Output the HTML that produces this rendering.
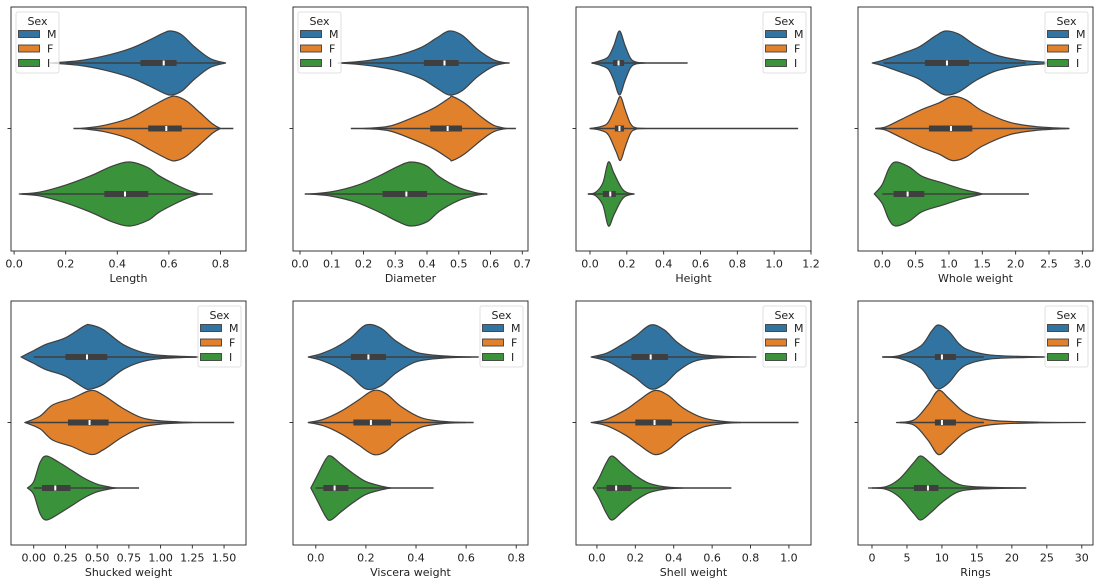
<!DOCTYPE html>
<html><head><meta charset="utf-8"><style>
html,body{margin:0;padding:0;background:#fff;}
svg{display:block;font-family:"DejaVu Sans","Liberation Sans",sans-serif;}
</style></head><body>
<svg id="fig" width="1100" height="582" viewBox="0 0 1100 582" xmlns="http://www.w3.org/2000/svg"></svg>
<script>
// ---------- data ----------
const sexCategories = ["M","F","I"];
const sexColors = ["#3274a1","#e1812c","#3a923a"];
const panelTitles = ["Length","Diameter","Height","Whole weight","Shucked weight","Viscera weight","Shell weight","Rings"];
const panelDomains = [[-0.012,0.899],[-0.022,0.718],[-0.076,1.2],[-0.364,3.16],[-0.179,1.673],[-0.091,0.847],[-0.109,1.115],[-2.0,31.6]];
const panelTicks = [
  [0,0.2,0.4,0.6,0.8],
  [0,0.1,0.2,0.3,0.4,0.5,0.6,0.7],
  [0,0.2,0.4,0.6,0.8,1.0,1.2],
  [0,0.5,1.0,1.5,2.0,2.5,3.0],
  [0,0.25,0.5,0.75,1.0,1.25,1.5],
  [0,0.2,0.4,0.6,0.8],
  [0,0.2,0.4,0.6,0.8,1.0],
  [0,5,10,15,20,25,30]
];
const panelTickLabels = [
  ["0.0","0.2","0.4","0.6","0.8"],
  ["0.0","0.1","0.2","0.3","0.4","0.5","0.6","0.7"],
  ["0.0","0.2","0.4","0.6","0.8","1.0","1.2"],
  ["0.0","0.5","1.0","1.5","2.0","2.5","3.0"],
  ["0.00","0.25","0.50","0.75","1.00","1.25","1.50"],
  ["0.0","0.2","0.4","0.6","0.8"],
  ["0.0","0.2","0.4","0.6","0.8","1.0"],
  ["0","5","10","15","20","25","30"]
];
const legendSide = ["left","left","right","right","right","right","right","right"];

// density knots [value, relative half-width] per sex (M, F, I)
const lengthShape = [
  [[0.14,0],[0.25,0.07],[0.35,0.22],[0.45,0.45],[0.52,0.7],[0.58,0.94],[0.61,1],[0.65,0.88],[0.7,0.5],[0.76,0.14],[0.82,0]],
  [[0.26,0],[0.35,0.1],[0.45,0.33],[0.53,0.68],[0.6,0.97],[0.63,1],[0.67,0.85],[0.72,0.5],[0.77,0.14],[0.8,0]],
  [[0.02,0],[0.1,0.06],[0.2,0.28],[0.3,0.58],[0.38,0.87],[0.45,1],[0.52,0.82],[0.56,0.58],[0.62,0.32],[0.68,0.1],[0.72,0]]
];
const diameterShape = [
  [[0.12,0],[0.2,0.06],[0.3,0.22],[0.38,0.48],[0.43,0.78],[0.47,1],[0.51,0.87],[0.56,0.42],[0.61,0.1],[0.65,0]],
  [[0.2,0],[0.28,0.07],[0.35,0.32],[0.42,0.63],[0.47,0.95],[0.48,1],[0.52,0.78],[0.57,0.37],[0.61,0.1],[0.65,0]],
  [[0.03,0],[0.1,0.07],[0.18,0.27],[0.25,0.57],[0.31,0.87],[0.35,1],[0.4,0.87],[0.44,0.53],[0.5,0.2],[0.55,0.05],[0.58,0]]
];
const heightShape = [
  [[0.01,0],[0.06,0.08],[0.1,0.2],[0.13,0.55],[0.16,1],[0.19,0.55],[0.22,0.15],[0.25,0.03],[0.3,0]],
  [[0.0,0],[0.06,0.06],[0.1,0.2],[0.14,0.7],[0.165,1],[0.19,0.6],[0.22,0.15],[0.25,0.02],[0.3,0]],
  [[-0.01,0],[0.03,0.05],[0.07,0.35],[0.1,1],[0.13,0.65],[0.17,0.2],[0.2,0.05],[0.24,0]]
];
const wholeShape = [
  [[-0.15,0],[0.0,0.08],[0.3,0.3],[0.55,0.5],[0.8,0.85],[0.95,1],[1.15,0.9],[1.4,0.55],[1.7,0.25],[2.1,0.08],[2.5,0.02],[2.55,0]],
  [[-0.1,0],[0.05,0.05],[0.3,0.3],[0.6,0.6],[0.85,0.8],[1.05,1],[1.25,0.9],[1.5,0.55],[1.9,0.2],[2.3,0.06],[2.8,0]],
  [[-0.12,0],[0.0,0.3],[0.1,0.8],[0.2,1],[0.4,0.85],[0.6,0.55],[0.9,0.35],[1.2,0.15],[1.45,0.03],[1.5,0]]
];
const shuckedShape = [
  [[-0.1,0],[0.0,0.2],[0.1,0.4],[0.25,0.6],[0.4,0.97],[0.45,1],[0.55,0.85],[0.7,0.4],[0.85,0.15],[1.0,0.05],[1.3,0]],
  [[-0.07,0],[0.05,0.2],[0.15,0.55],[0.3,0.75],[0.45,1],[0.55,0.85],[0.7,0.45],[0.85,0.15],[1.0,0.05],[1.2,0.01],[1.25,0]],
  [[-0.05,0],[0.0,0.2],[0.05,0.8],[0.1,1],[0.2,0.8],[0.3,0.55],[0.4,0.3],[0.5,0.12],[0.6,0.03],[0.65,0]]
];
const visceraShape = [
  [[-0.03,0],[0.02,0.1],[0.08,0.3],[0.14,0.6],[0.2,1],[0.26,0.9],[0.32,0.5],[0.4,0.15],[0.5,0.04],[0.62,0]],
  [[-0.03,0],[0.03,0.1],[0.1,0.35],[0.17,0.7],[0.23,1],[0.28,0.9],[0.34,0.5],[0.42,0.15],[0.5,0.04],[0.6,0]],
  [[-0.02,0],[0.0,0.3],[0.04,0.9],[0.06,1],[0.1,0.75],[0.15,0.45],[0.2,0.2],[0.26,0.06],[0.3,0]]
];
const shellShape = [
  [[-0.03,0],[0.05,0.12],[0.12,0.35],[0.2,0.65],[0.28,1],[0.35,0.85],[0.42,0.45],[0.5,0.15],[0.6,0.04],[0.8,0]],
  [[-0.03,0],[0.05,0.1],[0.15,0.4],[0.22,0.7],[0.3,1],[0.37,0.85],[0.45,0.45],[0.55,0.15],[0.65,0.04],[0.75,0]],
  [[-0.02,0],[0.01,0.3],[0.05,0.8],[0.08,1],[0.13,0.75],[0.2,0.4],[0.27,0.15],[0.35,0.04],[0.45,0]]
];
const ringsShape = [
  [[1.5,0],[4,0.05],[7,0.35],[8.5,0.8],[9.5,1],[11,0.8],[12.5,0.4],[14,0.2],[17,0.06],[22,0.015],[27,0]],
  [[3.5,0],[6,0.08],[8,0.55],[9.5,1],[11,0.75],[13,0.35],[15,0.15],[18,0.05],[24,0.01],[30.5,0]],
  [[-0.5,0],[2,0.04],[4,0.3],[6,0.8],[7,1],[8.5,0.75],[10,0.45],[12,0.15],[14,0.05],[17,0.02],[22,0]]
];
// box stats [whiskerLo, q1, median, q3, whiskerHi] per sex
const lengthBox = [[0.2,0.49,0.58,0.63,0.8],[0.23,0.52,0.59,0.65,0.85],[0.03,0.35,0.43,0.52,0.77]];
const diameterBox = [[0.15,0.39,0.455,0.5,0.66],[0.16,0.41,0.465,0.51,0.68],[0.015,0.26,0.335,0.4,0.59]];
const heightBox = [[0.01,0.125,0.155,0.185,0.53],[0.0,0.135,0.16,0.185,1.13],[-0.01,0.07,0.11,0.14,0.23]];
const wholeBox = [[0.02,0.64,0.97,1.3,2.15],[-0.1,0.7,1.03,1.35,2.8],[0.0,0.17,0.38,0.63,2.2]];
const shuckedBox = [[0.0,0.25,0.42,0.58,1.28],[-0.07,0.27,0.44,0.59,1.58],[0.0,0.065,0.17,0.29,0.83]];
const visceraBox = [[0.0,0.14,0.21,0.28,0.65],[-0.01,0.15,0.22,0.3,0.63],[0.0,0.03,0.075,0.13,0.47]];
const shellBox = [[0.0,0.18,0.28,0.37,0.83],[-0.02,0.2,0.3,0.39,1.05],[0.0,0.05,0.1,0.18,0.7]];
const ringsBox = [[1.5,9,10,12,16],[4,9,10,12,16],[0,6,8,9.5,22]];

const allShapes = [lengthShape,diameterShape,heightShape,wholeShape,shuckedShape,visceraShape,shellShape,ringsShape];
const allBoxes = [lengthBox,diameterBox,heightBox,wholeBox,shuckedBox,visceraBox,shellBox,ringsBox];

// ---------- drawing ----------
const NS = "http://www.w3.org/2000/svg";
const svg = document.getElementById("fig");
function mk(tag, attrs, parent){
  const e = document.createElementNS(NS, tag);
  for (const k in attrs) e.setAttribute(k, attrs[k]);
  (parent||svg).appendChild(e);
  return e;
}
const colLefts = [11,293,576,858];
const rowTops = [7,301];
const PW = 235, PH = 244, HALF = 32;
const EDGE = "#3f3f3f";
const FS = 11;

function smoothPath(pts){
  let d = "";
  for (let i=0;i<pts.length-1;i++){
    const p0 = pts[Math.max(0,i-1)], p1 = pts[i], p2 = pts[i+1], p3 = pts[Math.min(pts.length-1,i+2)];
    const c1x = p1[0]+(p2[0]-p0[0])/6, c1y = p1[1]+(p2[1]-p0[1])/6;
    const c2x = p2[0]-(p3[0]-p1[0])/6, c2y = p2[1]-(p3[1]-p1[1])/6;
    d += (i===0?"":" ")+"C"+c1x.toFixed(2)+","+c1y.toFixed(2)+" "+c2x.toFixed(2)+","+c2y.toFixed(2)+" "+p2[0].toFixed(2)+","+p2[1].toFixed(2);
  }
  return d;
}

for (let p=0;p<8;p++){
  const left = colLefts[p%4], top = rowTops[Math.floor(p/4)];
  const dom = panelDomains[p];
  const xs = v => left + (v-dom[0])/(dom[1]-dom[0])*PW;
  const yc = i => top + 56 + 65.5*i;
  const g = mk("g", {});
  
  
  const clipId = "clip"+p;
  const cp = mk("clipPath",{id:clipId},g);
  mk("rect",{x:left,y:top,width:PW,height:PH},cp);
  const plot = mk("g",{"clip-path":"url(#"+clipId+")"},g);

  for (let s=0;s<3;s++){
    const knots = allShapes[p][s];
    const cy = yc(s);
    const topPts = knots.map(k=>[xs(k[0]), cy - k[1]*HALF]);
    const botPts = knots.slice().reverse().map(k=>[xs(k[0]), cy + k[1]*HALF]);
    const d = "M"+topPts[0][0].toFixed(2)+","+topPts[0][1].toFixed(2)+" "+smoothPath(topPts)+" L"+botPts[0][0].toFixed(2)+","+botPts[0][1].toFixed(2)+" "+smoothPath(botPts)+" Z";
    const v = mk("path",{d:d,fill:sexColors[s],stroke:EDGE,"stroke-width":1.2,"stroke-linejoin":"round"},plot);
    
    
    const b = allBoxes[p][s];
    const wl = mk("line",{x1:xs(b[0]),x2:xs(b[4]),y1:cy,y2:cy,stroke:EDGE,"stroke-width":1.5},plot);
    
    
    const bx = mk("rect",{x:xs(b[1]),y:cy-3,width:Math.max(1,xs(b[3])-xs(b[1])),height:6,fill:EDGE},plot);
    
    
    const md = mk("rect",{x:xs(b[2])-1,y:cy-2.5,width:2,height:5,fill:"#ffffff"},plot);
    
    
  }

  const fr = mk("rect",{x:left,y:top,width:PW,height:PH,fill:"none",stroke:"#222","stroke-width":0.9},g);
  
  
  mk("line",{x1:left-3.5,x2:left,y1:yc(1),y2:yc(1),stroke:"#222","stroke-width":0.9},g);
  const tg = mk("g",{},g);
  
  
  panelTicks[p].forEach((t,i)=>{
    const x = xs(t);
    mk("line",{x1:x,x2:x,y1:top+PH,y2:top+PH+3.5,stroke:"#222","stroke-width":0.9},tg);
    const tx = mk("text",{x:x,y:top+PH+16.5,"text-anchor":"middle","font-size":FS,fill:"#222"},tg);
    tx.textContent = panelTickLabels[p][i];
    
    
  });
  const xt = mk("text",{x:left+PW/2,y:top+PH+31,"text-anchor":"middle","font-size":FS,fill:"#222"},g);
  xt.textContent = panelTitles[p];
  
  

  const lw = 43, lh = 61;
  const lx = legendSide[p]==="left" ? left+5 : left+PW-5-lw;
  const ly = top+5;
  const lg = mk("g",{},g);
  
  
  mk("rect",{x:lx,y:ly,width:lw,height:lh,rx:2,fill:"rgba(255,255,255,0.8)",stroke:"#d8d8d8","stroke-width":0.8},lg);
  const lt = mk("text",{x:lx+lw/2,y:ly+13,"text-anchor":"middle","font-size":FS,fill:"#222"},lg);
  lt.textContent = "Sex";
  
  
  for (let s=0;s<3;s++){
    const ey = ly + 22 + 14.5*s;
    const ent = mk("g",{},lg);
    
    
    mk("rect",{x:lx+2.5,y:ey-3.5,width:21,height:7,fill:sexColors[s],stroke:EDGE,"stroke-width":0.9},ent);
    const et = mk("text",{x:lx+31,y:ey+4,"font-size":FS,fill:"#222"},ent);
    et.textContent = sexCategories[s];
  }
}
</script>
</body></html>
